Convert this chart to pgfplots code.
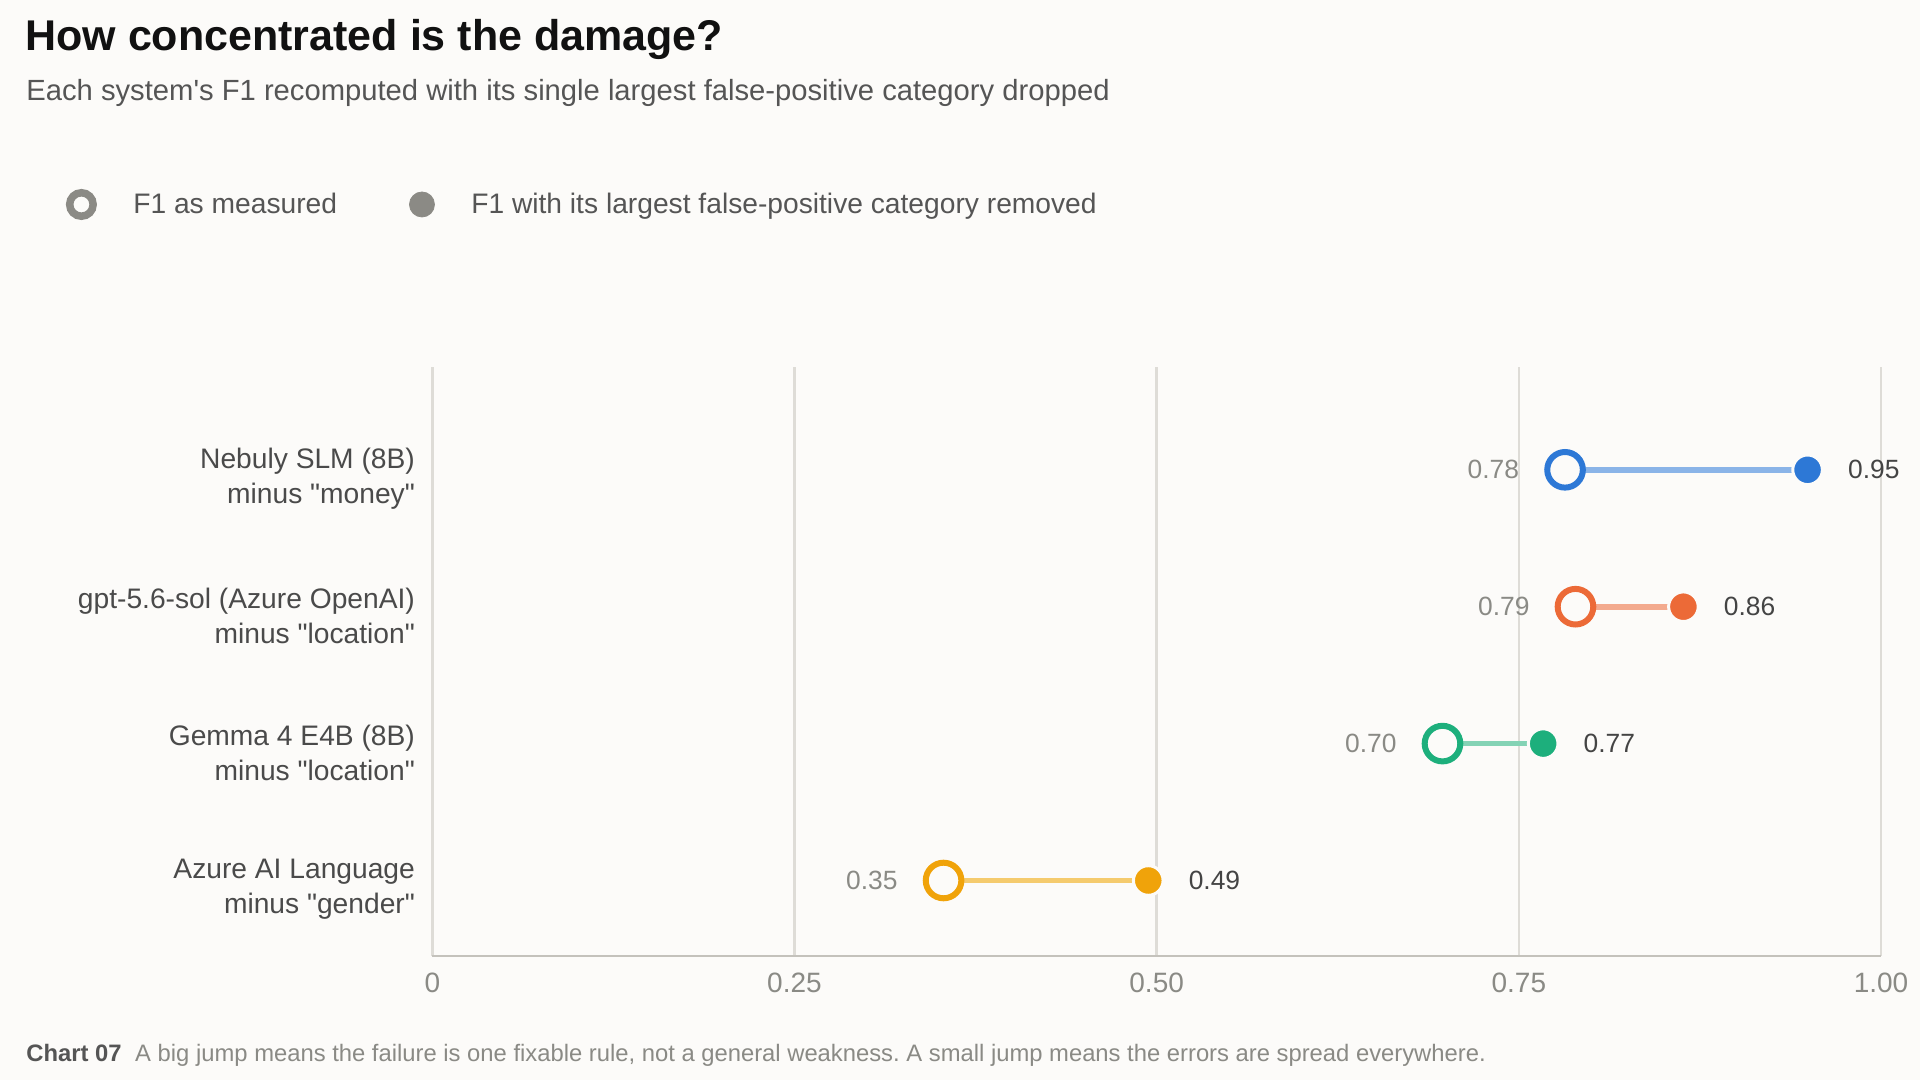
\documentclass[border=0pt]{standalone}
\usepackage{fontspec}
\setmainfont{Liberation Sans}[Ligatures=TeXOff]
\usepackage{pgfplots}
\pgfplotsset{compat=1.18}
\frenchspacing
\definecolor{bg}{HTML}{FCFBF9}
\definecolor{gridc}{HTML}{DEDCD7}
\definecolor{axisc}{HTML}{C4C2BC}
\definecolor{titlec}{HTML}{111111}
\definecolor{subc}{HTML}{555555}
\definecolor{lgray}{HTML}{8B8A85}
\definecolor{catc}{HTML}{4A4A4A}
\definecolor{tickc}{HTML}{8A8A85}
\definecolor{labl}{HTML}{8A8A85}
\definecolor{labr}{HTML}{444444}
\definecolor{cB}{HTML}{2D78D6}\definecolor{lB}{HTML}{8AB4E8}
\definecolor{cO}{HTML}{EC6A37}\definecolor{lO}{HTML}{F3AA8E}
\definecolor{cG}{HTML}{1DAF7C}\definecolor{lG}{HTML}{84D3B5}
\definecolor{cA}{HTML}{F0A30A}\definecolor{lA}{HTML}{F5CB6E}
% #1 colour, #2 light colour, #3 row, #4 measured, #5 dropped, #6 label measured, #7 label dropped
\newcommand{\dumbbell}[7]{%
  \addplot[forget plot, draw=#2, line width=2.85pt, mark=none] coordinates {(#4,#3) (#5,#3)};
  \addplot[forget plot, only marks, mark=*, mark size=7.4pt,
    mark options={draw=bg, fill=#1, line width=1.5pt},
    point meta=explicit symbolic, nodes near coords,
    every node near coord/.append style={anchor=west, xshift=19.5pt, inner sep=0pt,
      font=\fontsize{13.2}{15}\selectfont, text=labr}]
    coordinates {(#5,#3) [#7]};
  \addplot[forget plot, only marks, mark=*, mark size=8.9pt,
    mark options={draw=#1, fill=bg, line width=3pt},
    point meta=explicit symbolic, nodes near coords,
    every node near coord/.append style={anchor=east, xshift=-21.5pt, inner sep=0pt,
      font=\fontsize{13.2}{15}\selectfont, text=labl}]
    coordinates {(#4,#3) [#6]};
}
\begin{document}
\begin{tikzpicture}
\fill[bg] (0pt,0pt) rectangle (960pt,540pt);
\useasboundingbox (0pt,0pt) rectangle (960pt,540pt);
\node[anchor=base west, inner sep=0pt, font=\fontsize{21.5}{26}\selectfont\bfseries, text=titlec]
  at (12.5pt,514.75pt) {How concentrated is the damage?};
\node[anchor=base west, inner sep=0pt, font=\fontsize{14.6}{17}\selectfont, text=subc]
  at (13pt,489.65pt) {Each system's F1 recomputed with its single largest false-positive category dropped};
\node[anchor=base west, inner sep=0pt, font=\fontsize{11.9}{14}\selectfont, text=tickc]
  at (13pt,9.15pt) {{\bfseries\color{subc}Chart 07}\hspace{6.8pt}A big jump means the failure is one fixable rule, not a general weakness. A small jump means the errors are spread everywhere.};
\begin{axis}[
  at={(216.15pt,62pt)}, anchor=south west,
  scale only axis, width=724.35pt, height=294.5pt,
  xmin=0, xmax=1, ymin=-0.5515, ymax=3.751,
  clip=false,
  axis x line*=bottom, axis y line*=left,
  x axis line style={draw=axisc, line width=1.35pt, -},
  y axis line style={draw=none},
  major tick length=0pt, tick style={draw=none},
  xmajorgrids, grid style={draw=gridc, line width=1.25pt},
  xtick={0,0.25,0.5,0.75,1},
  xticklabels={0,0.25,0.50,0.75,1.00},
  /pgf/number format/assume math mode=true,
  xticklabel style={anchor=base, inner sep=0pt, yshift=-18.5pt,
    font=\fontsize{14}{16}\selectfont, text=tickc},
  ytick={0,1,2,3},
  yticklabels={{Azure AI Language\\minus "gender"},{Gemma 4 E4B (8B)\\minus "location"},{gpt-5.6-sol (Azure OpenAI)\\minus "location"},{Nebuly SLM (8B)\\minus "money"}},
  yticklabel style={align=right, anchor=east, inner sep=0pt, xshift=-8.5pt, yshift=-4.5pt,
    font=\fontsize{14.1}{17.6}\selectfont, text=catc},
  legend columns=2,
  legend style={at={(axis description cs:-0.2529,1.2759)}, anchor=west,
    draw=none, fill=none, inner sep=0pt, outer sep=0pt,
    font=\fontsize{14.1}{17}\selectfont, text=subc,
    nodes={inner sep=0pt},
    /tikz/every odd column/.append style={column sep=18.2pt},
    /tikz/every even column/.append style={column sep=36pt}},
]
\addlegendimage{legend image code/.code={\draw[draw=lgray, line width=3.75pt, fill=bg] (0pt,0pt) circle (5.875pt);}}
\addlegendentry{F1 as measured}
\addlegendimage{legend image code/.code={\fill[lgray] (0pt,0pt) circle (6.25pt);}}
\addlegendentry{F1 with its largest false-positive category removed}
\dumbbell{cB}{lB}{3}{0.7819}{0.9493}{0.78}{0.95}
\dumbbell{cO}{lO}{2}{0.7891}{0.8636}{0.79}{0.86}
\dumbbell{cG}{lG}{1}{0.6973}{0.7668}{0.70}{0.77}
\dumbbell{cA}{lA}{0}{0.3529}{0.4942}{0.35}{0.49}
\end{axis}
\end{tikzpicture}
\end{document}
